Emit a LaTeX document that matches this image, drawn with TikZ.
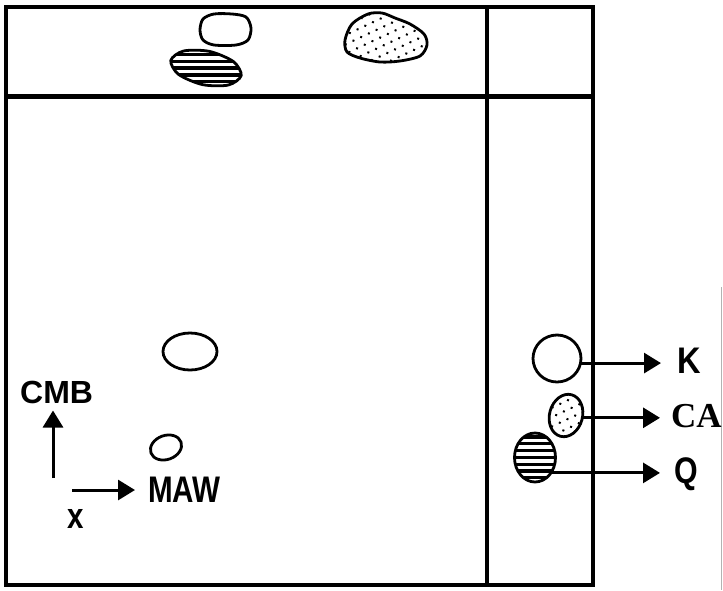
\documentclass[tikz,border=0pt]{standalone}
\usepackage{fontspec}
\usepackage{graphicx}
\usetikzlibrary{arrows.meta,shapes.geometric,patterns.meta}
\newfontfamily\labsans{Liberation Sans}
\newfontfamily\labserif{Liberation Serif}
\tikzset{
  frame/.style={line width=4.8pt},
  spot/.style={ellipse, draw, line width=2.8pt, inner sep=0pt, outer sep=0pt},
  blob/.style={draw, line width=2.8pt},
  stripe/.style={line width=3.3pt},
  dotty/.style={pattern={Dots[radius=1.4pt,distance=8.5pt,angle=25]}},
  arr/.style={line width=3pt, -{Triangle[length=17pt,width=20pt]}},
  lab/.style={inner sep=0pt, anchor=base west, font=\labsans\bfseries\fontsize{37}{40}\selectfont},
}
\begin{document}
\begin{tikzpicture}[x=1pt,y=-1pt]
\useasboundingbox (0,0) rectangle (723,590);
% plate frame
\draw[frame] (6,7) rectangle (593,585);
\draw[frame] (487,7) -- (487,585);
\draw[frame] (6,96.5) -- (593,96.5);
\draw[gray!60, line width=1pt] (721.5,287) -- (721.5,590);
% top strip spots
\draw[blob] plot[smooth cycle] coordinates {(200,30) (203,19) (214,14) (232,14) (246,17) (251,28) (248,40) (236,45) (214,45) (203,40)};
\begin{scope}
  \clip plot[smooth cycle] coordinates {(241.2,75.5) (228.4,85.0) (202.5,84.6) (178.6,74.4) (170.8,60.5) (183.6,51) (209.5,51.4) (233.4,61.6)};
  \foreach \yy in {54.5,61.3,68.1,74.9,81.7} \draw[stripe] (165,\yy) -- (250,\yy);
\end{scope}
\draw[blob] plot[smooth cycle] coordinates {(241.2,75.5) (228.4,85.0) (202.5,84.6) (178.6,74.4) (170.8,60.5) (183.6,51) (209.5,51.4) (233.4,61.6)};
\draw[blob, dotty] plot[smooth cycle] coordinates {(345,40) (352,24) (368,14) (382,13) (395,18) (410,24) (424,34) (427,45) (420,56) (400,61) (380,62) (360,58) (347,52)};
% main field spots
\node[spot, minimum width=54pt, minimum height=37pt] (s1) at (190,351.5) {};
\node[spot, minimum width=32pt, minimum height=24pt, rotate=20] (s2) at (166,447.5) {};
% reference spots
\node[spot, minimum width=48pt, minimum height=47pt] (Kspot) at (557,358.5) {};
\node[spot, dotty, minimum width=33pt, minimum height=43pt, rotate=-15] (CAspot) at (566,415.5) {};
\begin{scope}
  \clip (535,457.5) ellipse [x radius=20.5, y radius=24.5];
  \foreach \yy in {437,443.8,450.6,457.4,464.2,471,477.8} \draw[stripe] (510,\yy) -- (560,\yy);
\end{scope}
\node[spot, minimum width=41pt, minimum height=49pt] (Qspot) at (535,457.5) {};
% labels
\node[lab] (Klab) at (677,373) {\scalebox{0.88}[1]{K}};
\node[lab, font=\labserif\bfseries\fontsize{35}{40}\selectfont] (CAlab) at (671,427) {CA};
\node[lab] (Qlab) at (674,483) {\scalebox{0.82}[1]{Q}};
\node[lab, font=\labsans\bfseries\fontsize{32}{34}\selectfont] (CMB) at (20,403) {CMB};
\node[lab] (MAW) at (148,502) {\scalebox{0.8}[1]{MAW}};
\node[lab, font=\labsans\bfseries\fontsize{36}{38}\selectfont] (xlab) at (67,528) {\scalebox{0.82}[1]{x}};
% connectors
\draw[arr, shorten >=16pt] (Kspot.-11) -- (Kspot.-11 -| Klab.west);
\draw[arr, shorten >=11pt] (CAspot.7) -- (CAspot.7 -| CAlab.west);
\draw[arr, shorten >=14pt] (Qspot.-44) -- (Qspot.-44 -| Qlab.west);
\coordinate (ybase) at (53,478);
\draw[arr, shorten >=7pt] (ybase) -- (ybase |- CMB.south);
\coordinate (xbase) at (72,490);
\draw[arr, shorten >=13pt] (xbase) -- (xbase -| MAW.west);
\end{tikzpicture}
\end{document}
